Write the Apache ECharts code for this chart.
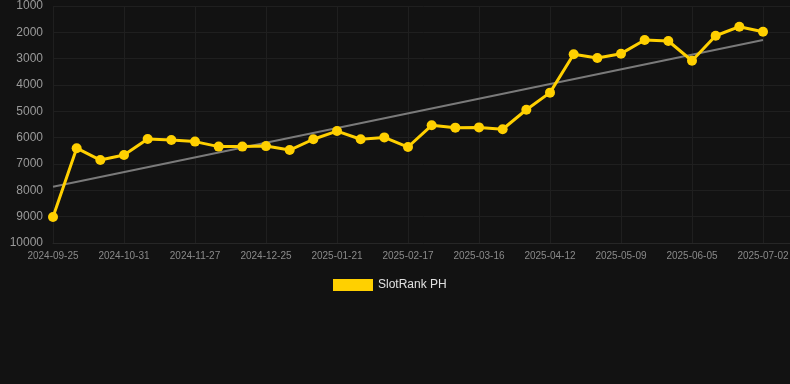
<!DOCTYPE html>
<html><head><meta charset="utf-8">
<script src="https://cdn.jsdelivr.net/npm/echarts@6/dist/echarts.min.js"></script>
<style>html,body{margin:0;padding:0;background:#121212;overflow:hidden;}#c{width:794px;height:384px;}</style>
</head><body><div id="c"></div>
<script>
const categories = ["2024-09-25","2024-10-07","2024-10-19","2024-10-31","2024-11-09","2024-11-18","2024-11-27","2024-12-06","2024-12-16","2024-12-25","2025-01-03","2025-01-12","2025-01-21","2025-01-30","2025-02-08","2025-02-17","2025-02-26","2025-03-07","2025-03-16","2025-03-25","2025-04-03","2025-04-12","2025-04-21","2025-04-30","2025-05-09","2025-05-18","2025-05-27","2025-06-05","2025-06-14","2025-06-23","2025-07-02"];
const rankValues = [9010,6400,6850,6660,6050,6090,6150,6340,6340,6320,6470,6060,5750,6060,5990,6355,5530,5620,5610,5680,4940,4290,2835,2975,2810,2290,2330,3080,2130,1785,1975];
const trendStart = 7860;
const trendEnd = 2290;
const yTicks = [1000,2000,3000,4000,5000,6000,7000,8000,9000,10000];
const seriesName = "SlotRank PH";

const lastIdx = categories.length - 1;
const mainData = rankValues.map((v,i)=>[i,v]);
const trendData = [[0,trendStart],[lastIdx,trendEnd]];

const chart = echarts.init(document.getElementById('c'));
chart.setOption({
  backgroundColor:'#121212',
  animation:false,
  textStyle:{fontFamily:'Arial, "Liberation Sans", sans-serif'},
  grid:{left:53,right:0,top:6,bottom:141,containLabel:false},
  legend:{data:[seriesName],left:328,top:274,itemWidth:40,itemHeight:12,itemGap:5,
    textStyle:{color:'#e0e0e0',fontSize:12},icon:'rect'},
  xAxis:{type:'value',min:0,max:31.31,interval:3,
    axisLine:{show:true,lineStyle:{color:'#262626'}},
    axisTick:{show:false},
    axisLabel:{color:'#8a8a8a',fontSize:10,margin:8,showMaxLabel:false,
      formatter:(v)=>{const i=Math.round(v);return (Math.abs(v-i)<1e-6 && categories[i])?categories[i]:'';}},
    splitLine:{show:true,lineStyle:{color:'#1f1f1f'}}},
  yAxis:{type:'value',inverse:true,min:yTicks[0],max:yTicks[yTicks.length-1],interval:1000,
    axisLine:{show:false},axisTick:{show:false},
    axisLabel:{color:'#9a9a9a',fontSize:12,margin:10,formatter:(v)=>String(v)},
    splitLine:{show:true,lineStyle:{color:'#1f1f1f'}}},
  series:[
    {name:'trend',type:'line',data:trendData,showSymbol:false,symbol:'none',
     lineStyle:{color:'#7a7a7a',width:2},itemStyle:{color:'#7a7a7a'},z:1,silent:true},
    {name:seriesName,type:'line',data:mainData,symbol:'circle',symbolSize:10,showAllSymbol:true,
     lineStyle:{color:'#FFD000',width:3},itemStyle:{color:'#FFD000'},z:2}
  ]
});
</script></body></html>
